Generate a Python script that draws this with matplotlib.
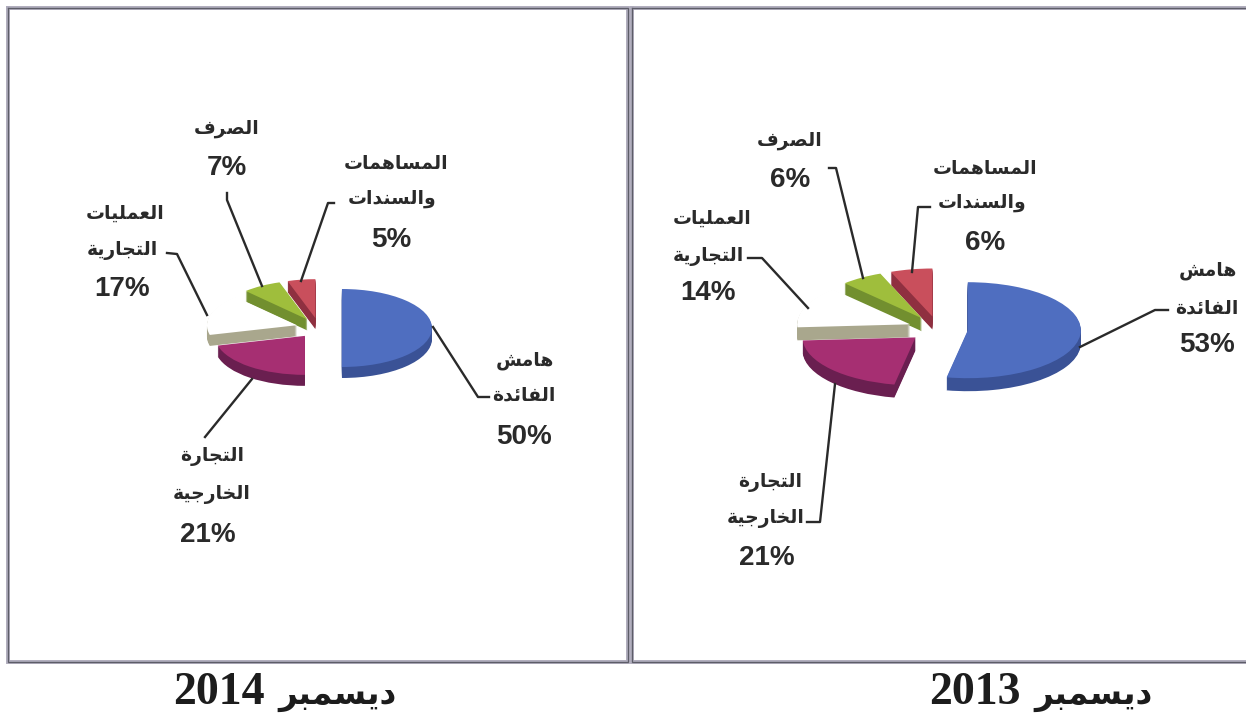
import unicodedata
import matplotlib
matplotlib.use('Agg')
import matplotlib.pyplot as plt

W, H = 1246, 716

# values, same slice order in both panels
slice_names = ['هامش الفائدة', 'التجارة الخارجية', 'العمليات التجارية', 'الصرف', 'المساهمات والسندات']
values_2014 = [50, 21, 17, 7, 5]
values_2013 = [53, 21, 14, 6, 6]
title_month = 'ديسمبر'
title_years = ['2014', '2013']

top_colors = ['#4f6ec0', '#a62f72', '#ffffff', '#9fbe3c', '#c94f5c']
side_colors = ['#3a5296', '#6a1f50', '#a9a78d', '#728f2f', '#8f3040']

NO_LINK_AFTER = 'اأإآدذرزوةى'


# matplotlib has no arabic shaping, so pick the presentation forms by hand
def shape(word):
    out = ''
    for i, ch in enumerate(word):
        before = i > 0 and word[i - 1] not in NO_LINK_AFTER
        after = i < len(word) - 1 and ch not in NO_LINK_AFTER
        if before and after:
            form = 'MEDIAL'
        elif before:
            form = 'FINAL'
        elif after:
            form = 'INITIAL'
        else:
            form = 'ISOLATED'
        out += unicodedata.lookup(unicodedata.name(ch) + ' ' + form + ' FORM')
    return out[::-1]


fig = plt.figure(figsize=(W / 100, H / 100), dpi=100, facecolor='white')


def draw_pie(values, cx, cy, rx, ry, depth, explode):
    span = 1.6
    ax = fig.add_axes([(cx - span * rx) / W, 1 - (cy + span * ry) / H,
                       2 * span * rx / W, 2 * span * ry / H])
    ex = [explode] * len(values)
    for k in range(depth, 0, -1):
        ax.pie(values, explode=ex, colors=side_colors, startangle=90, counterclock=False,
               center=(0, -k / ry), wedgeprops={'linewidth': 0})
    ax.pie(values, explode=ex, colors=top_colors, startangle=90, counterclock=False,
           wedgeprops={'linewidth': 0})
    ax.set_aspect('auto')
    ax.set_xlim(-span, span)
    ax.set_ylim(-span, span)
    ax.patch.set_alpha(0)


draw_pie(values_2014, 319, 328, 90, 39, 11, 0.255)
draw_pie(values_2013, 938, 329, 113, 48, 13, 0.265)

# overlay in pixel coordinates for frames, labels and leader lines
ov = fig.add_axes([0, 0, 1, 1], zorder=5)
ov.set_xlim(0, W)
ov.set_ylim(H, 0)
ov.axis('off')

for x0, x1 in [(8, 628), (632, 1250)]:
    xs = [x0, x1, x1, x0, x0]
    ys = [8, 8, 662, 662, 8]
    ov.plot(xs, ys, color='#aeabbb', lw=2.8, solid_joinstyle='miter')
    ov.plot(xs, ys, color='#5d5d68', lw=0.9, solid_joinstyle='miter')

leaders = [
    [(433, 327), (478, 397), (489, 397)],
    [(252, 379), (205, 437)],
    [(207, 315), (177, 254), (167, 253)],
    [(262, 286), (227, 200), (227, 193)],
    [(301, 281), (328, 203), (334, 203)],
    [(1080, 347), (1155, 310), (1168, 310)],
    [(835, 384), (820, 522), (807, 522)],
    [(808, 308), (762, 258), (748, 258)],
    [(863, 278), (836, 168), (829, 168)],
    [(912, 272), (918, 207), (930, 207)],
]
for line in leaders:
    ov.plot([p[0] for p in line], [p[1] for p in line], color='#2a2a2a', lw=1.7)

ar_labels = [
    ('هامش', 525, 360), ('الفائدة', 524, 395),
    ('التجارة', 212, 457), ('الخارجية', 212, 495),
    ('العمليات', 125, 213), ('التجارية', 122, 250),
    ('الصرف', 227, 128),
    ('المساهمات', 396, 163), ('والسندات', 392, 199),
    ('هامش', 1208, 270), ('الفائدة', 1207, 308),
    ('التجارة', 770, 482), ('الخارجية', 766, 519),
    ('العمليات', 712, 218), ('التجارية', 708, 256),
    ('الصرف', 790, 140),
    ('المساهمات', 985, 168), ('والسندات', 982, 203),
]
for word, x, y in ar_labels:
    ov.text(x, y, shape(word), ha='center', va='center', fontsize=13.5,
            family='DejaVu Sans', weight='bold', color='#2a2a2a')

pct_places_2014 = [(524, 437), (208, 535), (122, 289), (227, 168), (391, 240)]
pct_places_2013 = [(1207, 345), (767, 558), (708, 293), (790, 180), (985, 243)]
for vals, places in [(values_2014, pct_places_2014), (values_2013, pct_places_2013)]:
    for v, (x, y) in zip(vals, places):
        ov.text(x, y, f'{v}%', ha='center', va='center', fontsize=20,
                family='Liberation Sans', weight='bold', color='#2a2a2a')

for year, xd, xa in zip(title_years, [265, 1021], [278, 1034]):
    ov.text(xd, 693, year, ha='right', va='center', fontsize=33,
            family='Liberation Serif', weight='bold', color='#1c1c1c')
    ov.text(xa, 695, shape(title_month), ha='left', va='center', fontsize=23.5,
            family='DejaVu Sans', weight='bold', color='#1c1c1c')

fig.savefig('out.png', dpi=100)
